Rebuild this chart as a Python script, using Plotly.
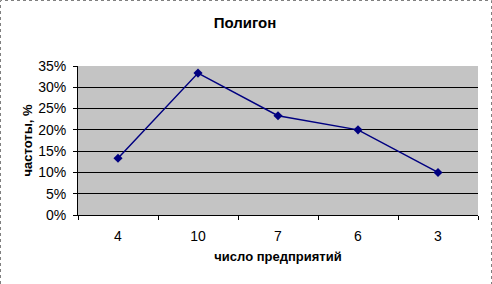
import plotly.graph_objects as go

categories = ["4", "10", "7", "6", "3"]
values = [13.33, 33.33, 23.33, 20.0, 10.0]
y_ticks = [0, 5, 10, 15, 20, 25, 30, 35]
y_tick_labels = [f"{v}%" for v in y_ticks]

W, H = 492, 284
L, R, T, B = 78, 14, 66, 69
pw, ph = W - L - R, H - T - B

fig = go.Figure()
fig.add_trace(go.Scatter(
    x=categories, y=values, mode="lines+markers",
    line=dict(color="#000080", width=1.5),
    marker=dict(symbol="diamond", size=7, color="#000080"),
    showlegend=False, cliponaxis=False,
))

def px_x(p):
    return (p - L) / pw

def px_y(p):
    return (H - B - p) / ph

fig.update_layout(
    width=W, height=H,
    margin=dict(l=L, r=R, t=T, b=B),
    paper_bgcolor="white",
    plot_bgcolor="#c4c4c4",
    font=dict(family="Liberation Sans, Arial", color="black", size=13),
    title=dict(text="<b>Полигон</b>", x=245 / W, xanchor="center",
               y=1 - 23 / H, yanchor="middle", font=dict(size=15)),
    xaxis=dict(
        type="category", tickson="boundaries", ticks="outside", ticklen=4,
        tickcolor="black", showline=True, linecolor="black", linewidth=1,
        showgrid=False, range=[-0.5, 4.5], tickfont=dict(size=14),
        ticklabelstandoff=8,
        title=dict(text="<b>число предприятий</b>", font=dict(size=13), standoff=9),
    ),
    yaxis=dict(
        range=[0, 35], tickvals=y_ticks, ticktext=y_tick_labels,
        ticks="outside", ticklen=4, tickcolor="black",
        showline=True, linecolor="black", linewidth=1,
        showgrid=True, gridcolor="black", gridwidth=1,
        zeroline=False, tickfont=dict(size=14), ticklabelstandoff=4,
        title=dict(text="<b>частоты, %</b>", font=dict(size=13), standoff=2),
    ),
    shapes=[
        dict(type="rect", xref="paper", yref="paper",
             x0=px_x(0.5), x1=px_x(W - 0.5), y0=px_y(H + 2), y1=px_y(0.5),
             line=dict(color="#808080", width=1, dash="dot"), layer="above"),
    ],
)

fig.write_html("out.html")
